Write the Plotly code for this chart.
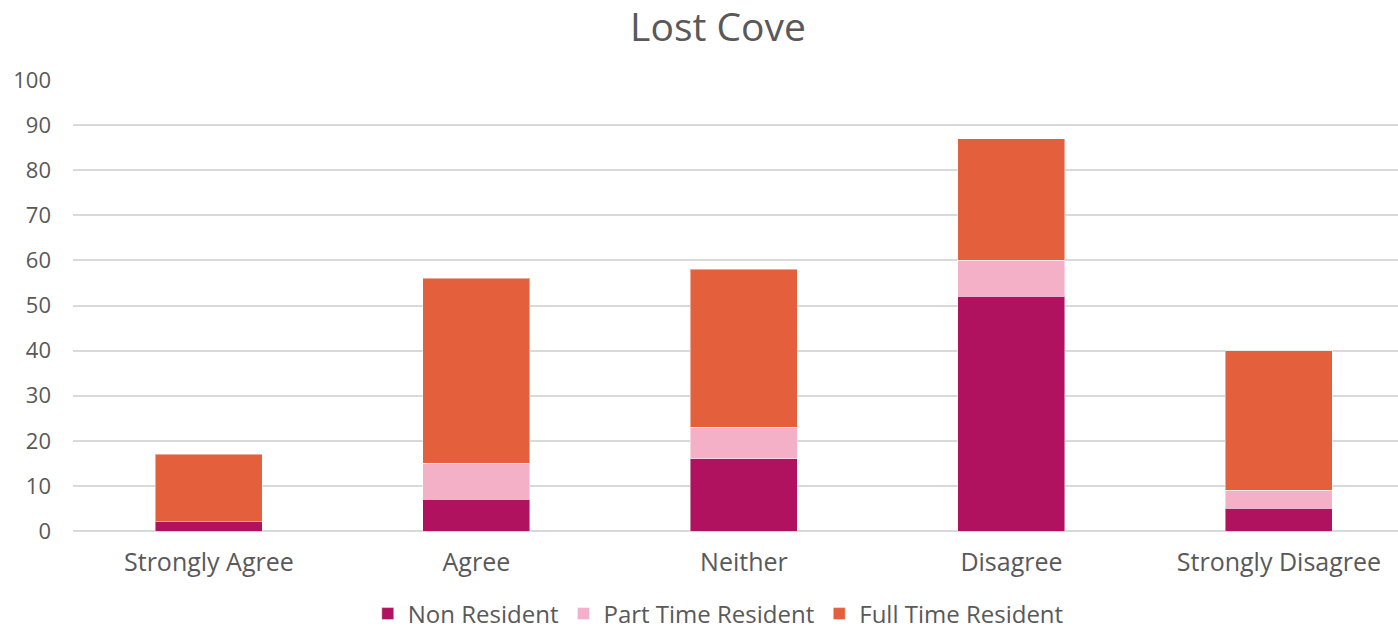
import plotly.graph_objects as go

categories = ["Strongly Agree", "Agree", "Neither", "Disagree", "Strongly Disagree"]
non_resident = [2, 7, 16, 52, 5]
part_time_resident = [0, 8, 7, 8, 4]
full_time_resident = [15, 41, 35, 27, 31]
y_ticks = [0, 10, 20, 30, 40, 50, 60, 70, 80, 90, 100]

FONT = "Open Sans"
TXT = "#595959"

fig = go.Figure()
series = [
    ("Non Resident", non_resident, "#B0125F"),
    ("Part Time Resident", part_time_resident, "#F3B0C7"),
    ("Full Time Resident", full_time_resident, "#E4603C"),
]
for name, vals, col in series:
    fig.add_trace(go.Bar(
        x=categories, y=vals, name=name,
        marker=dict(color=col, line=dict(color="rgba(255,255,255,0.45)", width=1)),
        width=0.4,
    ))

fig.update_layout(
    barmode="stack",
    width=1398, height=630,
    paper_bgcolor="white", plot_bgcolor="white",
    margin=dict(l=73, r=0, t=80, b=99),
    title=dict(text="Lost Cove", x=718 / 1398, xref="container", xanchor="center",
               y=1 - 27 / 630, yref="container", yanchor="middle",
               font=dict(family=FONT, size=39, color=TXT)),
    font=dict(family=FONT, color=TXT),
    legend=dict(orientation="h", x=0.487, xanchor="center", y=1 - 614 / 630,
                yref="container", yanchor="middle",
                font=dict(family=FONT, size=24, color=TXT),
                traceorder="normal", itemwidth=30),
    xaxis=dict(range=[-0.508, 4.445], showgrid=False, showline=False,
               tickfont=dict(family=FONT, size=25, color=TXT),
               ticks="", ticklabelstandoff=14),
    yaxis=dict(range=[0, 100], tickvals=y_ticks, showgrid=True, gridcolor="#D9D9D9",
               gridwidth=1.5, zeroline=True, zerolinecolor="#D9D9D9", zerolinewidth=1.5,
               tickfont=dict(family=FONT, size=22, color=TXT), ticks="",
               ticklabelstandoff=21, fixedrange=True),
)

fig.write_html("out.html")
